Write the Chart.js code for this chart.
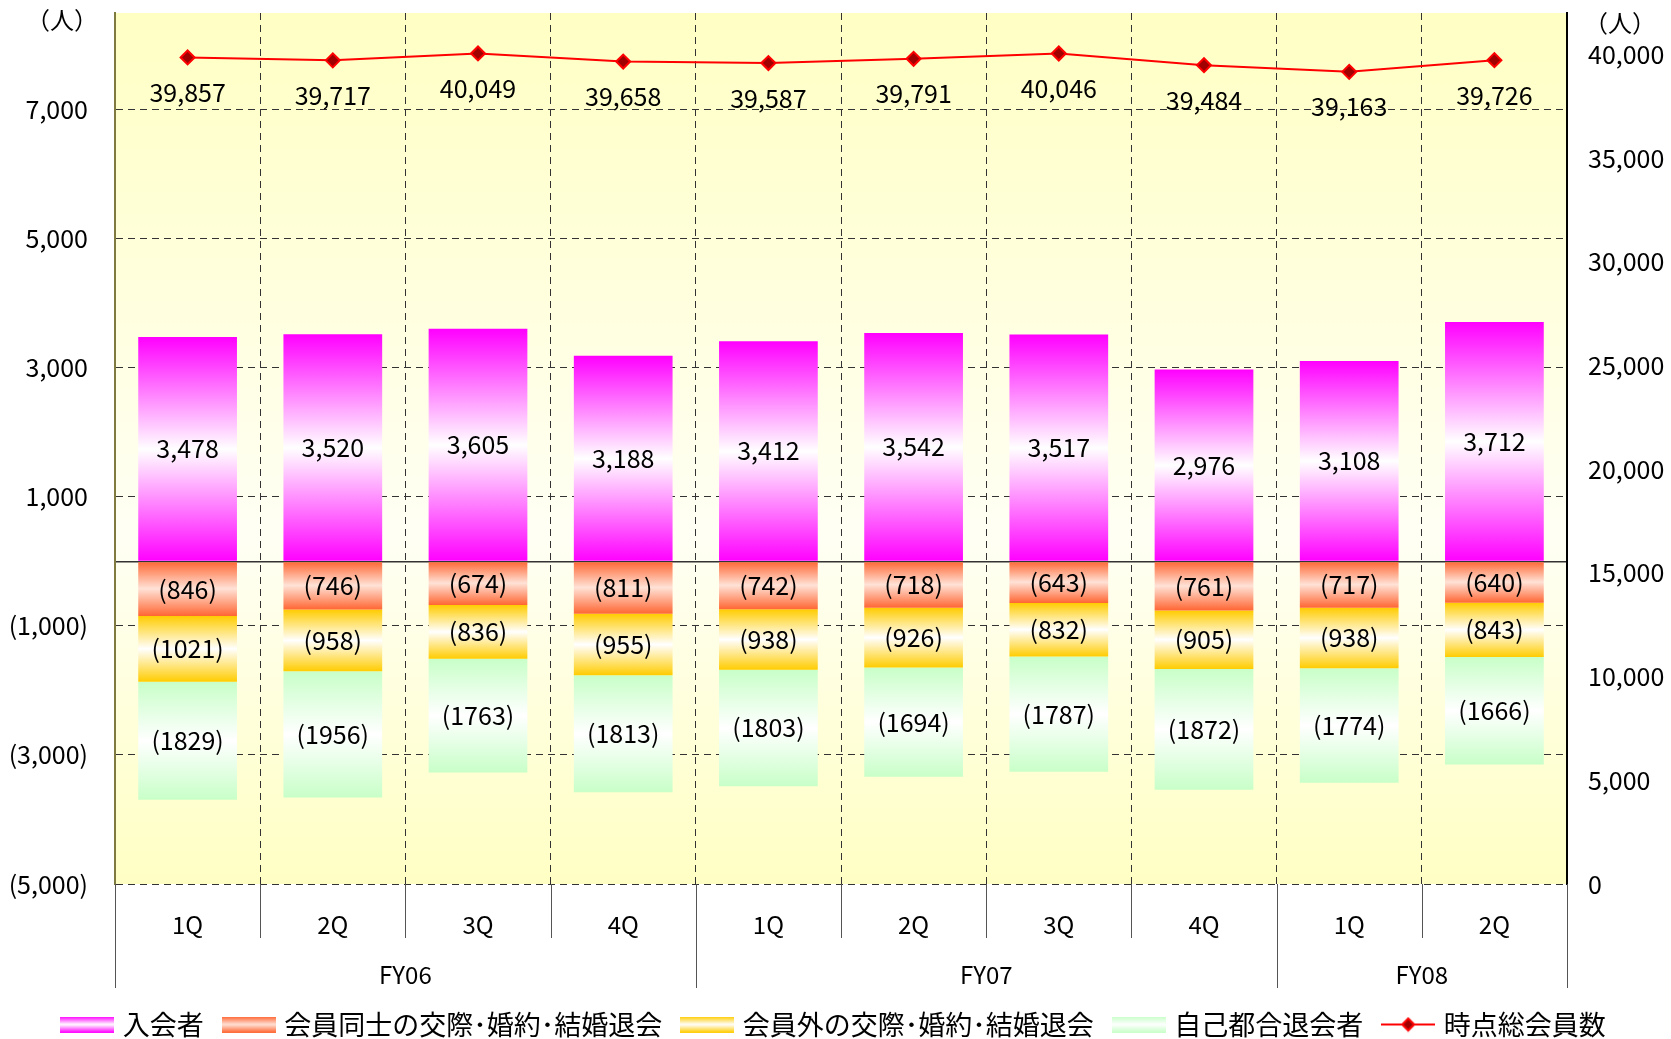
<!DOCTYPE html>
<html>
<head>
<meta charset="utf-8">
<script src="https://cdn.jsdelivr.net/npm/chart.js@4.4.1/dist/chart.umd.min.js"></script>
<style>
body { margin: 0; background: #fff; }
#wrap { width: 1671px; height: 1039px; }
</style>
</head>
<body>
<div id="wrap"><canvas id="members"></canvas></div>
<script>
// 四半期ごとの会員数
var quarters = ['1Q', '2Q', '3Q', '4Q', '1Q', '2Q', '3Q', '4Q', '1Q', '2Q'];
var fiscalYears = ['FY06', 'FY07', 'FY08'];
var fySpan = [4, 4, 2];
var joined = [3478, 3520, 3605, 3188, 3412, 3542, 3517, 2976, 3108, 3712];
var leftMatch = [-846, -746, -674, -811, -742, -718, -643, -761, -717, -640];
var leftOther = [-1021, -958, -836, -955, -938, -926, -832, -905, -938, -843];
var leftSelf = [-1829, -1956, -1763, -1813, -1803, -1694, -1787, -1872, -1774, -1666];
var totalMembers = [39857, 39717, 40049, 39658, 39587, 39791, 40046, 39484, 39163, 39726];
var leftTicks = [-5000, -3000, -1000, 0, 1000, 3000, 5000, 7000];
var rightTicks = [0, 5000, 10000, 15000, 20000, 25000, 30000, 35000, 40000];
var seriesNames = ['入会者', '会員同士の交際･婚約･結婚退会', '会員外の交際･婚約･結婚退会', '自己都合退会者', '時点総会員数'];

var FONT = '"Noto Sans CJK JP", "Noto Sans", sans-serif';
var barColors = [
  ['#FF00FF', '#FFFFFF', '#FF00FF'],
  ['#FF6633', '#FFE2D6', '#FF6633'],
  ['#FFCC00', '#FFFFFF', '#FFCC00'],
  ['#C8FFC8', '#FFFFFF', '#C8FFC8']
];

// 軸ラベル用
function axisFmt(v) {
  if (v < 0) return '(' + Math.abs(v).toLocaleString('en-US') + ')';
  return v.toLocaleString('en-US');
}
// 棒の中の数字 (マイナスはカンマなし)
function barFmt(v) {
  if (v < 0) return '(' + Math.abs(v) + ')';
  return v.toLocaleString('en-US');
}

// 各棒ごとにグラデーション
function barGrad(colors) {
  return function(ctx) {
    var chart = ctx.chart;
    var y = chart.scales.y;
    if (ctx.type !== 'data' || !y) return colors[0];
    var ds = ctx.datasetIndex, i = ctx.dataIndex;
    var v = chart.data.datasets[ds].data[i];
    var start = 0;
    for (var k = 0; k < ds; k++) {
      var w = chart.data.datasets[k].data[i];
      if ((w < 0) === (v < 0)) start += w;
    }
    var p0 = y.getPixelForValue(start), p1 = y.getPixelForValue(start + v);
    if (!isFinite(p0) || !isFinite(p1) || p0 === p1) return colors[0];
    var g = chart.ctx.createLinearGradient(0, Math.min(p0, p1), 0, Math.max(p0, p1));
    g.addColorStop(0, colors[0]);
    g.addColorStop(0.5, colors[1]);
    g.addColorStop(1, colors[2]);
    return g;
  };
}

function makeIcon(colors) {
  var cv = document.createElement('canvas');
  cv.width = 54; cv.height = 16;
  var g = cv.getContext('2d');
  var gr = g.createLinearGradient(0, 0, 0, 16);
  gr.addColorStop(0, colors[0]); gr.addColorStop(0.5, colors[1]); gr.addColorStop(1, colors[2]);
  g.fillStyle = gr;
  g.fillRect(0, 0, 54, 16);
  return cv;
}
function makeLineIcon() {
  var cv = document.createElement('canvas');
  cv.width = 54; cv.height = 16;
  var g = cv.getContext('2d');
  g.strokeStyle = '#FF0000'; g.lineWidth = 2;
  g.beginPath(); g.moveTo(0, 8); g.lineTo(54, 8); g.stroke();
  g.fillStyle = '#A00000'; g.lineWidth = 2;
  g.beginPath(); g.moveTo(27, 2); g.lineTo(33, 8); g.lineTo(27, 14); g.lineTo(21, 8); g.closePath();
  g.fill(); g.stroke();
  return cv;
}
var icons = [makeIcon(barColors[0]), makeIcon(barColors[1]), makeIcon(barColors[2]), makeIcon(barColors[3]), makeLineIcon()];

var bgPlugin = {
  id: 'plotBg',
  beforeDraw: function(chart) {
    var a = chart.chartArea, c = chart.ctx;
    var g = c.createLinearGradient(0, a.top, 0, a.bottom);
    g.addColorStop(0, '#FFFFC4');
    g.addColorStop(0.6, '#FFFFF4');
    g.addColorStop(1, '#FFFFC4');
    c.save();
    c.fillStyle = g;
    c.fillRect(a.left, a.top, a.right - a.left, a.bottom - a.top);
    c.restore();
  }
};

var labelPlugin = {
  id: 'valueLabels',
  afterDatasetsDraw: function(chart) {
    var c = chart.ctx;
    c.save();
    c.font = '25px ' + FONT;
    c.fillStyle = '#000';
    c.textAlign = 'center';
    c.textBaseline = 'middle';
    chart.data.datasets.forEach(function(ds, di) {
      var meta = chart.getDatasetMeta(di);
      meta.data.forEach(function(el, i) {
        if (ds.type === 'line') {
          c.fillText(barFmt(ds.data[i]), el.x, el.y + 35);
        } else {
          c.fillText(barFmt(ds.data[i]), el.x, (el.y + el.base) / 2);
        }
      });
    });
    c.restore();
  }
};

var axisPlugin = {
  id: 'axisExtras',
  afterDraw: function(chart) {
    var c = chart.ctx, a = chart.chartArea, x = chart.scales.x;
    var step = x.getPixelForValue(1) - x.getPixelForValue(0);
    c.save();
    c.strokeStyle = '#555';
    c.lineWidth = 1;
    for (var i = 1; i < quarters.length; i++) {
      var px = Math.round(x.getPixelForValue(i) - step / 2) + 0.5;
      c.beginPath(); c.moveTo(px, a.bottom); c.lineTo(px, a.bottom + 54); c.stroke();
    }
    c.font = '24px ' + FONT;
    c.fillStyle = '#000';
    c.textAlign = 'center';
    c.textBaseline = 'middle';
    var idx = 0;
    for (var f = 0; f <= fiscalYears.length; f++) {
      var bx = Math.round(x.getPixelForValue(idx) - step / 2) + 0.5;
      c.beginPath(); c.moveTo(bx, a.bottom); c.lineTo(bx, a.bottom + 104); c.stroke();
      if (f < fiscalYears.length) {
        var mid = (x.getPixelForValue(idx) + x.getPixelForValue(idx + fySpan[f] - 1)) / 2;
        c.fillText(fiscalYears[f], mid, a.bottom + 91);
        idx += fySpan[f];
      }
    }
    // 単位
    c.fillText('（人）', chart.scales.y.right - 53, a.top + 7);
    c.fillText('（人）', chart.scales.y2.left + 53, a.top + 10);
    c.restore();
  }
};

var dashFn = function(ctx) { return ctx.tick && ctx.tick.value === 0 ? [] : [7, 5]; };

var chart = new Chart(document.getElementById('members').getContext('2d'), {
  type: 'bar',
  data: {
    labels: quarters,
    datasets: [
      { label: seriesNames[0], data: joined, backgroundColor: barGrad(barColors[0]), borderWidth: 0, yAxisID: 'y' },
      { label: seriesNames[1], data: leftMatch, backgroundColor: barGrad(barColors[1]), borderWidth: 0, yAxisID: 'y' },
      { label: seriesNames[2], data: leftOther, backgroundColor: barGrad(barColors[2]), borderWidth: 0, yAxisID: 'y' },
      { label: seriesNames[3], data: leftSelf, backgroundColor: barGrad(barColors[3]), borderWidth: 0, yAxisID: 'y' },
      { type: 'line', label: seriesNames[4], data: totalMembers, yAxisID: 'y2',
        borderColor: '#FF0000', borderWidth: 2, tension: 0,
        pointStyle: 'rectRot', pointRadius: 7, pointBackgroundColor: '#A00000',
        pointBorderColor: '#FF0000', pointBorderWidth: 2 }
    ]
  },
  options: {
    responsive: true,
    maintainAspectRatio: false,
    animation: false,
    barPercentage: 0.68,
    categoryPercentage: 1,
    layout: { padding: { top: 13, left: 0, right: 0, bottom: 0 } },
    plugins: {
      tooltip: { enabled: false },
      legend: {
        position: 'bottom',
        maxHeight: 51,
        labels: {
          usePointStyle: true,
          pointStyleWidth: 44,
          boxHeight: 16,
          padding: 23,
          color: '#000',
          font: { family: FONT, size: 27 },
          sort: function(a, b) { return a.datasetIndex - b.datasetIndex; },
          generateLabels: function(ch) {
            var items = Chart.defaults.plugins.legend.labels.generateLabels(ch);
            items.forEach(function(it) { it.pointStyle = icons[it.datasetIndex]; });
            return items;
          }
        }
      }
    },
    scales: {
      x: {
        stacked: true,
        offset: true,
        grid: { offset: true, color: '#333', lineWidth: 1, drawTicks: false, borderDash: [7, 5] },
        border: { display: false, dash: [7, 5] },
        ticks: { color: '#000', font: { family: FONT, size: 24 }, padding: 26 },
        afterFit: function(s) { s.height = 104; }
      },
      y: {
        stacked: true,
        position: 'left',
        min: -5000,
        max: 8500,
        afterBuildTicks: function(s) { s.ticks = leftTicks.map(function(v) { return { value: v }; }); },
        grid: {
          color: '#333',
          lineWidth: function(ctx) { return ctx.tick && ctx.tick.value === 0 ? 1.5 : 1; },
          drawTicks: false,
          borderDash: dashFn
        },
        border: { color: '#7F7A40', width: 2, dash: dashFn },
        ticks: {
          color: '#000',
          font: { family: FONT, size: 25 },
          padding: 27,
          callback: function(v) { return v === 0 ? '' : axisFmt(v); }
        },
        afterFit: function(s) { s.width = 115; s.paddingTop = 0; s.paddingBottom = 0; }
      },
      y2: {
        position: 'right',
        min: 0,
        max: 42000,
        afterBuildTicks: function(s) { s.ticks = rightTicks.map(function(v) { return { value: v }; }); },
        grid: { drawOnChartArea: false, drawTicks: false },
        border: { color: '#000', width: 2 },
        ticks: {
          color: '#000',
          font: { family: FONT, size: 25 },
          padding: 21,
          callback: function(v) { return axisFmt(v); }
        },
        afterFit: function(s) { s.width = 104; s.paddingTop = 0; s.paddingBottom = 0; }
      }
    }
  },
  plugins: [bgPlugin, labelPlugin, axisPlugin]
});
</script>
</body>
</html>
